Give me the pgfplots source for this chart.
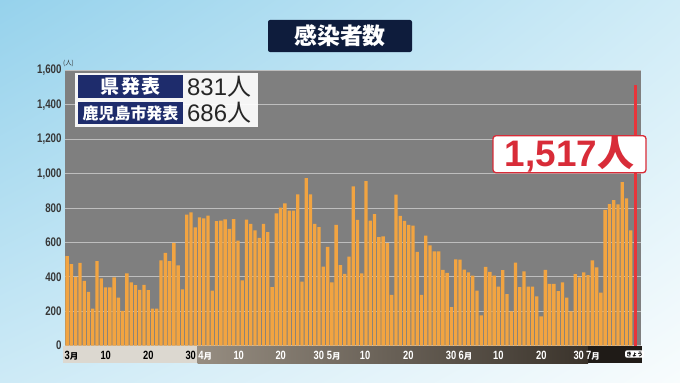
\documentclass[border=0pt]{standalone}
\usepackage{pgfplots}
\pgfplotsset{compat=1.18}
\usetikzlibrary{shadings}
\usepackage{fontspec}
\setmainfont{Liberation Sans}
\newfontfamily\jp{Noto Sans CJK JP}
\newfontfamily\narrow{Liberation Sans}[FakeStretch=0.78]
\definecolor{bgUL}{RGB}{150,210,236}
\definecolor{bgUR}{RGB}{208,236,247}
\definecolor{bgLL}{RGB}{205,234,246}
\definecolor{bgLR}{RGB}{248,252,253}
\definecolor{plotgray}{RGB}{127,127,127}
\definecolor{gridc}{RGB}{190,190,190}
\definecolor{barc}{RGB}{242,164,65}
\definecolor{redbar}{RGB}{232,52,58}
\definecolor{navyT}{RGB}{14,28,60}
\definecolor{navyL}{RGB}{30,44,108}
\definecolor{annred}{RGB}{216,44,56}
\definecolor{tickc}{RGB}{55,55,55}
\definecolor{bandMar}{RGB}{220,216,208}
\definecolor{bandA}{RGB}{150,141,129}
\definecolor{bandB}{RGB}{58,51,43}
\definecolor{bandJul}{RGB}{31,27,23}
\begin{document}
\begin{tikzpicture}[x=1bp,y=1bp]
\useasboundingbox (0,0) rectangle (680,382);
\shade[upper left=bgUL, upper right=bgUR, lower left=bgLL, lower right=bgLR] (0,0) rectangle (680,382);
% date band
\fill[bandMar] (63,19) rectangle (197.5,36.5);
\shade[left color=bandA, right color=bandB] (197.5,19) rectangle (588,36.5);
\fill[bandJul] (588,19) rectangle (642,36.5);
\begin{axis}[
  at={(65bp,36.5bp)}, anchor=south west,
  width=576bp, height=275bp, scale only axis,
  xmin=-0.5, xmax=134.4, ymin=0, ymax=1600,
  ytick={0,200,...,1600}, xtick=\empty,
  ymajorgrids, major grid style={gridc, line width=0.8bp},
  axis line style={draw=none}, major tick length=0pt,
  axis background/.style={fill=plotgray},
  yticklabel style={font=\narrow\bfseries\fontsize{12.5}{13}\selectfont, text=tickc},
  /pgf/number format/1000 sep={,},
  /pgf/number format/assume math mode=true,
  clip=false,
]
\addplot[ybar, bar width=0.78, bar shift=0pt, fill=barc, draw=none]
  table[x expr=\coordindex, y index=0, header=false] {
520
473
400
481
376
312
215
491
390
338
338
396
279
202
419
367
351
324
353
322
215
215
495
539
491
597
466
327
761
775
688
746
740
755
319
723
726
734
678
736
610
379
732
707
670
626
708
660
339
769
802
827
785
785
880
371
974
880
708
689
459
574
367
702
467
417
517
926
731
419
957
727
764
630
635
597
295
878
754
725
702
697
545
295
639
582
547
547
440
423
223
501
499
442
425
406
320
175
457
429
406
343
438
299
198
482
339
432
343
343
286
170
440
358
358
316
367
278
199
415
396
425
410
496
454
308
789
823
846
821
951
856
670
};
\addplot[ybar, bar width=0.7, bar shift=0pt, fill=redbar, draw=none] coordinates {(133,1517)};
\end{axis}
% y unit
\node[font=\jp\fontsize{6.5}{7}\selectfont, text=tickc] at (68.5,318.5) {(人)};
% date labels
\begin{scope}[font=\narrow\bfseries\fontsize{12}{12}\selectfont]
\node[text=black] at (71.5,26.5) {3{\jp\fontsize{8.5}{9}\selectfont 月}};
\node[text=black] at (105.7,26.5) {10};
\node[text=black] at (148.3,26.5) {20};
\node[text=black] at (190.7,26.5) {30};
\node[text=white] at (205.3,26.5) {4{\jp\fontsize{8.5}{9}\selectfont 月}};
\node[text=white] at (238.7,26.5) {10};
\node[text=white] at (280.7,26.5) {20};
\node[text=white] at (318.8,26.5) {30};
\node[text=white] at (333.8,26.5) {5{\jp\fontsize{8.5}{9}\selectfont 月}};
\node[text=white] at (365,26.5) {10};
\node[text=white] at (408.3,26.5) {20};
\node[text=white] at (451,26.5) {30};
\node[text=white] at (465.5,26.5) {6{\jp\fontsize{8.5}{9}\selectfont 月}};
\node[text=white] at (498.3,26.5) {10};
\node[text=white] at (541.3,26.5) {20};
\node[text=white] at (578.7,26.5) {30};
\node[text=white] at (593,26.5) {7{\jp\fontsize{8.5}{9}\selectfont 月}};
\end{scope}
\node[fill=white, rounded corners=2bp, inner sep=1.2bp, font=\jp\bfseries\fontsize{5.5}{6}\selectfont, text=black] at (634.5,28) {きょう};
% title
\node[fill=navyT, rounded corners=2bp, minimum width=144bp, minimum height=32bp, inner sep=0pt, text=white, font=\jp\bfseries\fontsize{23}{23}\selectfont] at (340,346) {感染者数};
% legend box
\fill[white, opacity=0.93] (75,255.3) rectangle (258,309.3);
\node[fill=navyL, minimum width=105bp, minimum height=23bp, inner sep=0pt, text=white, font=\jp\bfseries\fontsize{19}{19}\selectfont] at (130.5,295.5) {県\hspace{2bp}発\hspace{2bp}表};
\node[fill=navyL, minimum width=105bp, minimum height=22bp, inner sep=0pt, text=white, font=\jp\bfseries\fontsize{16}{16}\selectfont] at (130.5,269) {鹿児島市発表};
\node[anchor=west, inner sep=0pt, font=\fontsize{24}{24}\selectfont, text=black!85] at (187,295.5) {831{\jp 人}};
\node[anchor=west, inner sep=0pt, font=\fontsize{24}{24}\selectfont, text=black!85] at (187,269) {686{\jp 人}};
% annotation
\node[draw=annred, line width=1.3bp, fill=white, rounded corners=3bp, minimum width=153bp, minimum height=37bp, inner sep=0pt, text=annred, font=\bfseries\fontsize{37}{37}\selectfont] at (569.5,227.8) {1,517{\jp\bfseries 人}};
\end{tikzpicture}
\end{document}
